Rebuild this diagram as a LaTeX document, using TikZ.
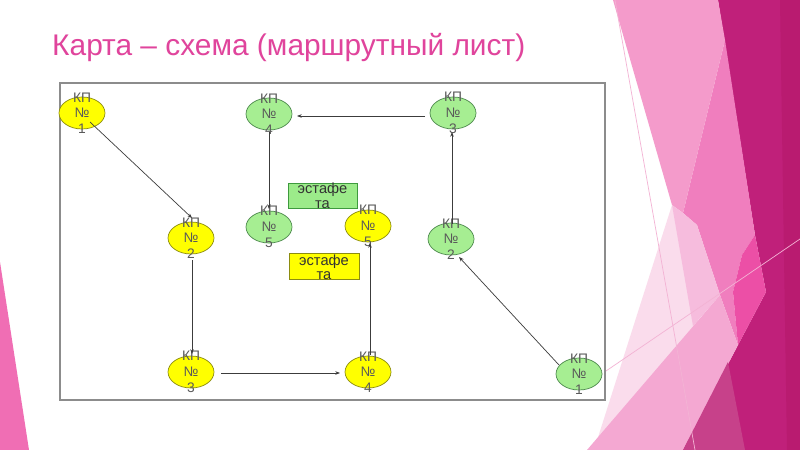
\documentclass[tikz,border=0pt]{standalone}
\usepackage{fontspec}
\setmainfont{Liberation Sans}
\usetikzlibrary{arrows.meta,shapes.geometric}
\definecolor{titlecol}{HTML}{E0449C}
\definecolor{yelfill}{HTML}{FFFF00}
\definecolor{yelline}{HTML}{8C8C10}
\definecolor{grnfill}{HTML}{A6EE92}
\definecolor{grnline}{HTML}{4E8A4E}
\definecolor{boxgfill}{HTML}{9CEB8A}
\definecolor{boxgline}{HTML}{3E9A3E}
\definecolor{txtgrey}{HTML}{5A5A5A}
\definecolor{linecol}{HTML}{3C3C3C}
\definecolor{framecol}{HTML}{8C8C8C}
\definecolor{bgD}{HTML}{C0207A}
\definecolor{bgS}{HTML}{B91B70}
\definecolor{bgM}{HTML}{F07EBE}
\definecolor{bgH}{HTML}{EC4FA6}
\definecolor{bgB}{HTML}{F49BCB}
\definecolor{bgL}{HTML}{F6BCDD}
\definecolor{bgV}{HTML}{FADCEC}
\definecolor{bgW}{HTML}{F4A8D2}
\definecolor{bgMu}{HTML}{C7418A}
\definecolor{bgLine}{HTML}{F3B3D4}
\definecolor{bgLeft}{HTML}{F06EB4}
\begin{document}
\begin{tikzpicture}[x=0.03cm,y=-0.03cm,
  kpy/.style={ellipse, draw=yelline, fill=yelfill, line width=0.6pt,
    minimum width=1.38cm, minimum height=0.96cm, inner sep=0pt},
  kpg/.style={ellipse, draw=grnline, fill=grnfill, line width=0.6pt,
    minimum width=1.38cm, minimum height=0.96cm, inner sep=0pt},
  kptext/.style={align=center, text=txtgrey, inner sep=0pt,
    font=\fontsize{11.8}{13.4}\selectfont},
  boxg/.style={draw=boxgline, fill=boxgfill, line width=0.6pt,
    minimum width=2.07cm, minimum height=0.75cm, inner sep=0pt},
  boxy/.style={draw=yelline, fill=yelfill, line width=0.6pt,
    minimum width=2.1cm, minimum height=0.78cm, inner sep=0pt},
  boxtext/.style={align=center, text=black!80, inner sep=0pt,
    font=\fontsize{12.5}{12.5}\selectfont},
  conn/.style={draw=linecol, line width=0.6pt, -{Stealth[length=4pt,width=3pt]}}
]
\useasboundingbox (0,0) rectangle (800,450);
\fill[white] (0,0) rectangle (800,450);
% background decoration
\fill[bgD] (718,0) -- (800,0) -- (800,450) -- (683,450) -- (738,345) -- (766,292) -- (755,235) -- cycle;
\fill[bgS] (780,0) -- (800,0) -- (800,450) -- (787,450) -- cycle;
\fill[bgM] (725,40) -- (755,235) -- (742,255) -- (733,292) -- (738,345) -- (720,295) -- (697,225) -- (683,213) -- cycle;
\fill[bgH] (755,235) -- (766,292) -- (738,345) -- (733,292) -- (742,255) -- cycle;
\fill[bgB] (613,0) -- (718,0) -- (725,40) -- (683,213) -- (672,205) -- cycle;
\fill[bgV] (672,205) -- (700,330) -- (594,450) -- cycle;
\fill[bgL] (672,205) -- (683,213) -- (697,225) -- (720,295) -- (693,326) -- cycle;
\fill[bgW] (587,450) -- (720,295) -- (738,345) -- (683,450) -- cycle;
\fill[bgMu] (683,450) -- (728,362) -- (745,450) -- cycle;
\draw[bgLine, line width=0.6pt] (615,0) -- (695,450);
\fill[bgLeft] (0,262) -- (29,450) -- (0,450) -- cycle;
% title
\node[anchor=base west, text=titlecol, inner sep=0pt,
  font=\fontsize{25.5}{30}\selectfont] (title) at (52,56) {Карта – схема (маршрутный лист)};
% frame
\draw[framecol, fill=white, line width=1.2pt] (60,83) rectangle (605,400);
\draw[bgLine, line width=0.6pt] (606,371) -- (800,239);
% relay boxes
\node[boxg] (bg) at (322.5,195.5) {};
\node[boxtext] at (bg) {эстафе\\та};
\node[boxy] (by) at (324,266) {};
\node[boxtext] at ([yshift=-1]by.center) {эстафе\\та};
% yellow route
\node[kpy] (y1) at (82,113) {};
\node[kpy] (y2) at (191,238) {};
\node[kpy] (y3) at (191,372) {};
\node[kpy] (y4) at (368,372) {};
\node[kpy] (y5) at (368,226) {};
% green route
\node[kpg] (g1) at (579,374) {};
\node[kpg] (g2) at (451,239) {};
\node[kpg] (g3) at (453,113) {};
\node[kpg] (g4) at (269,114) {};
\node[kpg] (g5) at (269,227) {};
% labels
\node[kptext] at (y1) {КП\\№\\1};
\node[kptext] at (y2) {КП\\№\\2};
\node[kptext] at (y3) {КП\\№\\3};
\node[kptext] at (y4) {КП\\№\\4};
\node[kptext] at (y5) {КП\\№\\5};
\node[kptext] at (g1) {КП\\№\\1};
\node[kptext] at (g2) {КП\\№\\2};
\node[kptext] at (g3) {КП\\№\\3};
\node[kptext] at (g4) {КП\\№\\4};
\node[kptext] at (g5) {КП\\№\\5};
% connectors
\draw[conn] ([shift={(8,9)}]y1.center) -- ([shift={(1,-20)}]y2.center);
\draw[conn] ([shift={(1,22)}]y2.center) -- ([shift={(1,-18)}]y3.center);
\draw[conn] ([shift={(30,1)}]y3.center) -- ([shift={(-28,1)}]y4.center);
\draw[conn] ([shift={(2,-17)}]y4.center) -- ([shift={(2,17)}]y5.center);
\draw[conn] ([shift={(-20,-9)}]g1.center) -- ([shift={(8,18)}]g2.center);
\draw[conn] ([shift={(1,-15)}]g2.center) -- ([shift={(-1,19)}]g3.center);
\draw[conn] ([shift={(-28,3)}]g3.center) -- ([shift={(28,2)}]g4.center);
\draw[conn] ([shift={(0,18)}]g4.center) -- ([shift={(0,-18)}]g5.center);
\end{tikzpicture}
\end{document}
